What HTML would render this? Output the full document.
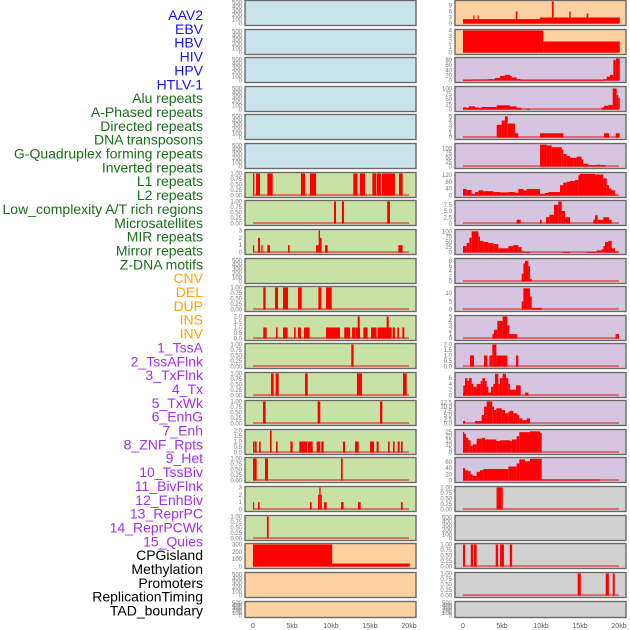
<!DOCTYPE html>
<html><head><meta charset="utf-8"><style>
html,body{margin:0;padding:0;background:#fff;}
svg{display:block;font-family:"Liberation Sans",sans-serif;}
</style></head><body>
<svg id="chart" width="630" height="630" viewBox="0 0 630 630"></svg>
<script>
// ---------- data ----------
const rowLabels = ["AAV2","EBV","HBV","HIV","HPV","HTLV-1","Alu repeats","A-Phased repeats","Directed repeats","DNA transposons","G-Quadruplex forming repeats","Inverted repeats","L1 repeats","L2 repeats","Low_complexity A/T rich regions","Microsatellites","MIR repeats","Mirror repeats","Z-DNA motifs","CNV","DEL","DUP","INS","INV","1_TssA","2_TssAFlnk","3_TxFlnk","4_Tx","5_TxWk","6_EnhG","7_Enh","8_ZNF_Rpts","9_Het","10_TssBiv","11_BivFlnk","12_EnhBiv","13_ReprPC","14_ReprPCWk","15_Quies","CPGisland","Methylation","Promoters","ReplicationTiming","TAD_boundary"];
const labelGroups = [6,13,5,15,5];
const xTickValues = [0,5,10,15,20];
const xTickLabels = ["0","5kb","10kb","15kb","20kb"];

const ticksEmpty = [0,100,200,300,400,500];
const ticksBinary = [0,0.25,0.5,0.75,1];
const ticksBinaryLabels = ["0.00","0.25","0.50","0.75","1.00"];

// left column segments [startKb, endKb, value]
const L6 = [[0,0.17,1],[0.38,0.9,1],[1.84,2.52,1],[6.15,6.67,1],[7.3,8.08,1],[12.86,13.4,1],[13.7,14.36,1],[15.3,15.77,1],[15.85,16.4,1],[16.54,18.2,1],[18.72,19.19,1]];
const L7 = [[10.38,10.64,1],[11.4,11.67,1],[17.2,17.56,1]];
const L8 = [[0,0.12,1],[0.64,0.9,2],[1.07,1.24,1],[1.84,2.18,1],[4.49,4.7,1],[8.08,8.42,1],[8.42,8.59,3],[8.59,8.8,2],[9.23,9.57,1],[18.63,19.19,1]];
const L10 = [[1.32,1.62,1],[2.82,3.2,1],[3.85,4.49,1],[5.77,6.24,1],[8.38,8.76,1],[9.36,10.09,1]];
const L11 = [[1.32,1.75,1],[2.95,3.16,1],[3.85,4.45,1],[5.26,5.47,1],[5.77,6.15,1],[6.54,7.26,1],[9.36,11.15,1],[11.7,12.44,1],[12.7,13.16,1],[13.2,13.72,1],[13.42,13.68,2],[14.15,14.7,1],[15.13,15.85,1],[15.98,17.78,1],[17.14,17.4,2],[17.9,18.2,1],[18.5,18.72,1],[19.15,19.4,1]];
const L12 = [[12.6,12.9,1]];
const L13 = [[2.31,2.65,1],[2.9,3.29,1],[6.67,7.01,1],[13.33,13.97,1],[19.23,19.7,1]];
const L14 = [[1.28,1.62,1],[8.29,8.63,1],[16.28,16.58,1]];
const L15 = [[0,0.12,1],[0.21,0.47,1],[0.77,0.98,1],[2.18,2.39,2],[2.95,3.16,1],[4.79,5.08,1],[5.94,6.97,1],[7.05,7.65,1],[8.16,8.63,1],[8.76,9.06,1],[11.54,11.8,1],[13.08,13.55,1],[15.0,15.51,1],[15.85,16.11,1],[17.31,17.52,1],[17.95,18.16,1],[18.55,18.8,1],[18.97,19.19,1]];
const L16 = [[0,0.47,1],[1.54,1.92,1],[11.28,11.5,1]];
const L17 = [[0,0.12,1],[0.64,0.85,1],[7.3,7.52,1],[8.33,8.5,2],[8.5,8.67,3],[8.67,8.8,2],[9.1,9.44,1],[11.28,11.62,1],[13.46,13.8,1],[18.97,19.19,1]];
const L18 = [[1.79,2.01,1]];
const L19 = [[0,10.15,300],[10.15,20.1,40]];

// right column segments
const R0 = [[0,9.87,2.2],[9.87,20.1,3],[1.32,1.45,4],[1.88,2,4],[6.75,6.97,6],[11.4,11.62,11],[13.63,13.8,6],[15.85,16.07,5]];
const R1 = [[0,10.3,4],[10.3,20.1,2]];
const R2 = [[0,1.11,1],[1.11,3.12,3],[3.12,4.1,5],[4.1,4.74,10],[4.74,5.38,18],[5.38,6.03,22],[6.03,6.24,18],[6.24,6.88,12],[6.88,7.39,5],[7.39,17.99,0.6],[17.99,18.42,5],[18.42,18.85,15],[18.85,19.27,22],[19.27,19.6,80],[19.6,20.1,88]];
const R3 = [[0,0.47,10],[0.47,0.73,8],[0.73,1.54,15],[1.54,1.97,10],[1.97,2.4,8],[2.4,4.32,12],[4.32,6.03,20],[6.03,6.88,15],[6.88,7.52,8],[8.16,8.59,3],[17.78,18.08,10],[18.08,18.63,18],[18.63,19.19,22],[19.19,19.7,100],[19.7,19.9,70],[19.9,20.1,55]];
const R4 = [[4.32,4.96,3],[4.96,5.38,4],[5.38,5.73,5],[5.73,6.67,3.3],[6.67,7.09,1],[9.87,12.86,1],[18.08,18.72,1],[19.57,20.1,1]];
const R5 = [[9.87,10.73,122],[10.73,11.37,118],[11.37,12.65,108],[12.65,12.86,95],[12.86,13.29,70],[13.29,13.72,58],[13.72,14.14,50],[14.14,14.57,48],[14.57,15.21,55],[15.21,15.43,40],[15.43,16.07,15],[16.07,17.14,8],[17.14,17.56,10],[17.56,18.29,8]];
const R6 = [[0,0.47,38],[0.47,1.11,32],[1.11,1.54,10],[1.54,1.97,20],[1.97,2.61,30],[2.61,3.89,25],[3.89,4.74,20],[4.74,5.81,18],[5.81,6.67,20],[6.67,7.09,15],[7.09,7.74,38],[7.74,8.16,30],[8.16,9.87,38],[9.87,10.51,10],[10.51,10.94,15],[10.94,12.44,20],[12.44,12.86,60],[12.86,13.29,75],[13.29,13.72,80],[13.72,14.36,85],[14.36,14.79,90],[14.79,15.0,118],[15.0,16.92,126],[16.92,17.99,122],[17.99,18.42,100],[18.42,18.72,60],[18.72,19.06,40],[19.06,19.49,30],[19.49,19.7,5]];
const R7 = [[6.88,7.39,1.5],[9.87,10.09,1.5],[10.64,11.07,2.5],[11.07,11.67,3.5],[11.67,12.22,7.5],[12.22,12.65,8.8],[12.65,13.08,5],[13.08,13.72,2.5],[16.71,16.92,1.5],[16.92,17.26,3.3],[17.26,17.99,1.5],[17.99,18.72,2.5],[18.72,19.06,1.5]];
const R8 = [[0,0.47,30],[0.47,0.81,45],[0.81,1.11,70],[1.11,1.97,100],[1.97,2.18,75],[2.18,2.61,55],[2.61,3.25,50],[3.25,3.89,45],[3.89,4.53,40],[4.53,5.81,20],[5.81,6.45,30],[6.45,7.09,35],[7.09,7.52,25],[7.52,7.95,5],[7.95,8.59,1],[12.86,13.72,2],[15.85,17.14,2],[17.14,17.78,10],[17.78,17.99,15],[17.99,18.2,30],[18.2,18.63,50],[18.63,19.06,55],[19.06,19.49,20],[19.49,19.91,5]];
const R9 = [[7.52,7.74,3],[7.74,7.95,7],[7.95,8.38,8],[8.38,8.59,6],[8.59,8.8,1]];
const R10 = [[7.52,7.74,5],[7.74,8.59,13],[8.59,8.8,8],[8.8,10.09,1]];
const R11 = [[3.76,3.97,1],[3.97,4.4,2],[4.4,5.08,4],[5.08,5.69,5],[5.69,5.94,3],[5.94,6.97,1],[19.57,20,1]];
const R12 = [[0.9,1.41,1],[2.69,3.12,1],[3.38,3.76,1],[3.76,4.28,2],[4.28,5.69,1],[6.79,7.09,1]];
const R13 = [[0,0.04,1],[0.04,0.26,3.5],[0.26,0.56,6],[0.56,0.77,5],[0.77,1.11,6],[1.11,1.32,4],[1.32,1.75,3],[1.75,2.26,4],[2.26,2.48,5],[2.48,2.82,6],[2.82,3.03,5],[3.03,3.25,3],[3.25,3.59,1],[3.59,3.89,3],[3.89,4.1,4],[4.1,4.53,7.5],[4.53,4.74,4],[4.74,5.08,6],[5.08,5.51,7.5],[5.51,5.81,6],[5.81,6.03,4],[6.03,6.79,2],[6.79,7.39,3.5],[7.95,8.38,1]];
const R14 = [[0,0.26,1.5],[1.54,2.39,1.5],[2.39,2.69,5],[2.69,3.03,10],[3.03,3.76,13],[3.76,3.97,10],[3.97,4.28,8],[4.28,4.96,9],[4.96,5.38,8],[5.38,5.81,6],[5.81,6.03,7],[6.03,6.45,7.5],[6.45,6.97,6],[6.97,7.22,5],[7.22,7.6,3],[7.6,8.16,2],[8.16,8.59,3]];
const R15 = [[0,0.04,25],[0.04,0.38,23],[0.38,0.68,18],[0.68,0.98,15],[0.98,1.24,8],[1.24,1.75,10],[1.75,2.39,17],[2.39,2.82,18],[2.82,4.28,16],[4.28,4.74,14],[4.74,6.03,15],[6.03,6.24,14],[6.24,6.88,16],[6.88,7.22,20],[7.22,8.59,25],[8.59,9.87,26],[9.87,10.09,24]];
const R16 = [[0,0.26,40],[0.26,0.68,33],[0.68,0.98,30],[0.98,1.24,20],[1.24,1.75,15],[1.75,2.18,28],[2.18,2.61,33],[2.61,5.81,37],[5.81,6.88,45],[6.88,7.22,55],[7.22,7.95,68],[7.95,8.59,62],[8.59,10.09,70],[10.09,17.56,3]];
const R17 = [[4.3,5.1,1]];
const R19 = [[0,0.26,1],[1.0,1.3,1],[1.4,1.75,1],[4.2,4.5,1],[4.75,5.25,1],[6.0,6.3,1]];
const R20 = [[14.7,15.1,1],[18.3,18.7,1],[19.2,19.45,1]];

// ---------- layout ----------
const rowTops = [0,29,57,86,114,143,172,200,229,258,286,315,343,372,400,429,457,486,515,543,572,601];
const colX = [245,455];
const frameW = 171;
const bgBlue="#c8e4ea", bgGreen="#c8e1a5", bgOrange="#fed1a0", bgPurple="#d5c5e1", bgGray="#d1d1d1";
const groupColors = ["#1414f0","#1a6e1a","#ffa500","#a030f0","#000000"];

const svg = document.getElementById('chart');
const NS = "http://www.w3.org/2000/svg";
function mk(tag, attrs){const e=document.createElementNS(NS,tag);for(const k in attrs)e.setAttribute(k,attrs[k]);return e;}

// labels
let li=0;
labelGroups.forEach((n,g)=>{
  for(let i=0;i<n;i++){
    const t=mk('text',{x:203,y:15+li*13.85+5,'text-anchor':'end','font-size':14,fill:groupColors[g]});
    
    
    t.textContent=rowLabels[li];
    svg.appendChild(t);
    li++;
  }
});

function xScale(col,kb){return colX[col]+8+kb*7.8;}

function panel(col,row,bg,segs,ymax,ticks,tickLabels){
  const top=rowTops[row];
  const h=(row===21)?16:25;
  const g=mk('g',{});
  
  
  svg.appendChild(g);
  const r=mk('rect',{x:colX[col],y:top+0.5,width:frameW,height:h,fill:bg,stroke:'none'});
  
  
  g.appendChild(r);
  const pTop=top+1.5, pBot=top+h-1.5;
  const yS=v=>pBot-(v/ymax)*(pBot-pTop);
  if(segs){
    const base=mk('rect',{x:xScale(col,0),y:pBot-1.5,width:20*7.8,height:2,fill:'#d84a4a',opacity:0.7});
    
    
    g.appendChild(base);
    segs.forEach(s=>{
      const x0=xScale(col,s[0]), x1=xScale(col,s[1]);
      const y=yS(Math.min(s[2],ymax));
      const b=mk('rect',{x:x0,y:y,width:Math.max(1.2,x1-x0),height:Math.max(0.8,pBot-y),fill:'#ff0000'});
      
      
      g.appendChild(b);
    });
  }
  const f=mk('rect',{x:colX[col],y:top+0.5,width:frameW,height:h,fill:'none',stroke:'#6a6a6a','stroke-width':1.4});
  
  
  g.appendChild(f);
  ticks.forEach((tv,i)=>{
    const t=mk('text',{x:colX[col]-3,y:yS(tv)+2,'text-anchor':'end','font-size':6,fill:'#777'});
    
    
    t.textContent=tickLabels?tickLabels[i]:String(tv);
    g.appendChild(t);
  });
}

// left column
for(let r=0;r<6;r++) panel(0,r,bgBlue,null,520,ticksEmpty);
const leftGreen={6:L6,7:L7,8:L8,10:L10,11:L11,12:L12,13:L13,14:L14,15:L15,16:L16,17:L17,18:L18};
const leftTickMode={8:'int3',11:'two',15:'two',17:'int3'};
for(let r=6;r<=18;r++){
  if(r===9){panel(0,r,bgGreen,null,520,ticksEmpty);continue;}
  const m=leftTickMode[r];
  if(m==='int3') panel(0,r,bgGreen,leftGreen[r],3,[0,1,2,3]);
  else if(m==='two') panel(0,r,bgGreen,leftGreen[r],2,[0,0.5,1,1.5,2],["0.0","0.5","1.0","1.5","2.0"]);
  else panel(0,r,bgGreen,leftGreen[r],1,ticksBinary,ticksBinaryLabels);
}
panel(0,19,bgOrange,L19,300,[0,100,200,300]);
panel(0,20,bgOrange,null,520,ticksEmpty);
panel(0,21,bgOrange,null,520,ticksEmpty);

// right column
panel(1,0,bgOrange,R0,11,[0,3,6,9]);
panel(1,1,bgOrange,R1,4,[0,1,2,3,4]);
panel(1,2,bgPurple,R2,86,[0,20,40,60,80]);
panel(1,3,bgPurple,R3,105,[0,25,50,75,100]);
panel(1,4,bgPurple,R4,5.2,[0,1,2,3,4,5]);
panel(1,5,bgPurple,R5,123,[0,25,50,75,100]);
panel(1,6,bgPurple,R6,128,[0,40,80,120]);
panel(1,7,bgPurple,R7,8.8,[0,2.5,5,7.5],["0","2.5","5.0","7.5"]);
panel(1,8,bgPurple,R8,104,[0,25,50,75,100]);
panel(1,9,bgPurple,R9,8.5,[0,2,4,6,8]);
panel(1,10,bgPurple,R10,13.5,[0,5,10]);
panel(1,11,bgPurple,R11,5,[0,1,2,3,4,5]);
panel(1,12,bgPurple,R12,2,[0,0.5,1,1.5,2],["0.0","0.5","1.0","1.5","2.0"]);
panel(1,13,bgPurple,R13,7.6,[0,2,4,6]);
panel(1,14,bgPurple,R14,13,[0,2.5,5,7.5,10,12.5],["0.0","2.5","5.0","7.5","10.0","12.5"]);
panel(1,15,bgPurple,R15,27,[0,5,10,15,20,25]);
panel(1,16,bgPurple,R16,71,[0,20,40,60]);
panel(1,17,bgGray,R17,1,ticksBinary,ticksBinaryLabels);
panel(1,18,bgGray,null,520,ticksEmpty);
panel(1,19,bgGray,R19,1,ticksBinary,ticksBinaryLabels);
panel(1,20,bgGray,R20,1,ticksBinary,ticksBinaryLabels);
panel(1,21,bgGray,null,520,ticksEmpty);

// x axes
[0,1].forEach(col=>{
  xTickValues.forEach((v,i)=>{
    const t=mk('text',{x:xScale(col,v),y:628,'text-anchor':'middle','font-size':7,fill:'#555'});
    
    
    t.textContent=xTickLabels[i];
    svg.appendChild(t);
  });
});
</script>
</body></html>
